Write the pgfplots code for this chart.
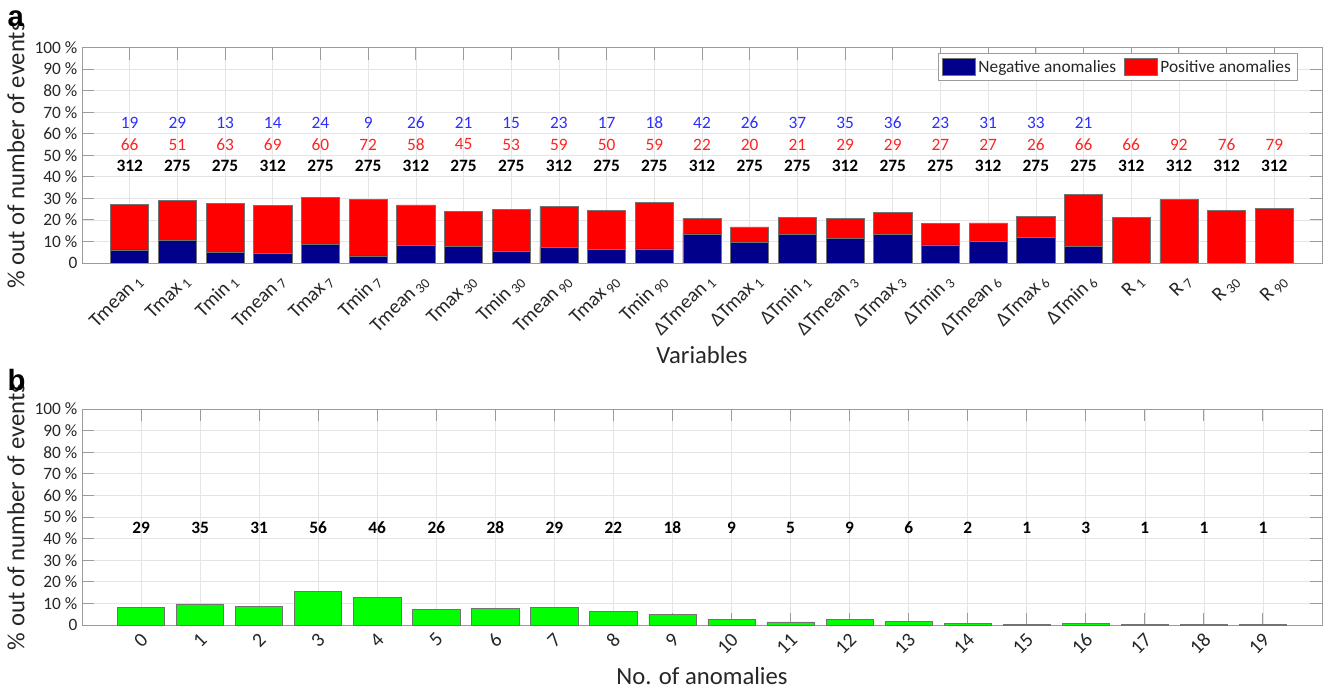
\documentclass[border=0pt]{standalone}
\usepackage{pgfplots}
\usepackage{pgfplotstable}
\pgfplotsset{compat=1.18}
\usepackage{fontspec}
\setmainfont{Carlito}
\newfontfamily\panelfont{Liberation Sans}
\definecolor{navybar}{RGB}{0,0,139}
\definecolor{redbar}{RGB}{255,0,0}
\definecolor{greenbar}{RGB}{0,255,0}
\definecolor{bluetxt}{RGB}{45,45,255}
\definecolor{redtxt}{RGB}{255,35,35}
\definecolor{axgray}{RGB}{155,155,155}
\definecolor{gridgray}{RGB}{228,228,228}
\definecolor{txtgray}{RGB}{38,38,38}
\definecolor{edgegray}{RGB}{115,115,115}

\pgfplotstableread[row sep=\\]{
x tot npos ntot\\
0 27.24 66 312\\
1 29.09 51 275\\
2 27.64 63 275\\
3 26.60 69 312\\
4 30.55 60 275\\
5 29.45 72 275\\
6 26.92 58 312\\
7 24.00 45 275\\
8 24.73 53 275\\
9 26.28 59 312\\
10 24.36 50 275\\
11 28.00 59 275\\
12 20.51 22 312\\
13 16.73 20 275\\
14 21.09 21 275\\
15 20.51 29 312\\
16 23.64 29 275\\
17 18.18 27 275\\
18 18.59 27 312\\
19 21.45 26 275\\
20 31.64 66 275\\
21 21.15 66 312\\
22 29.49 92 312\\
23 24.36 76 312\\
24 25.32 79 312\\
}\totA

\pgfplotstableread[row sep=\\]{
x neg nneg\\
0 6.09 19\\
1 10.55 29\\
2 4.73 13\\
3 4.49 14\\
4 8.73 24\\
5 3.27 9\\
6 8.33 26\\
7 7.64 21\\
8 5.45 15\\
9 7.37 23\\
10 6.18 17\\
11 6.55 18\\
12 13.46 42\\
13 9.45 26\\
14 13.45 37\\
15 11.22 35\\
16 13.09 36\\
17 8.36 23\\
18 9.94 31\\
19 12.00 33\\
20 7.64 21\\
}\negA

\pgfplotstableread[row sep=\\]{
x pct n\\
0 8.10 29\\
1 9.78 35\\
2 8.66 31\\
3 15.64 56\\
4 12.85 46\\
5 7.26 26\\
6 7.82 28\\
7 8.10 29\\
8 6.15 22\\
9 5.03 18\\
10 2.51 9\\
11 1.40 5\\
12 2.51 9\\
13 1.68 6\\
14 0.56 2\\
15 0.28 1\\
16 0.84 3\\
17 0.28 1\\
18 0.28 1\\
19 0.28 1\\
}\dataB

\pgfplotsset{
  common/.style={
    scale only axis, width=930pt,
    /pgf/number format/assume math mode=true,
    ymin=0, ymax=100, ytick={0,10,...,100},
    yticklabels={0,10 \%,20 \%,30 \%,40 \%,50 \%,60 \%,70 \%,80 \%,90 \%,100 \%},
    axis line style={axgray, line width=0.7pt},
    tick style={axgray, line width=0.7pt},
    major tick length=9pt,
    tick align=inside, tick pos=both,
    grid=major, major grid style={gridgray, line width=0.5pt},
    tick label style={font=\fontsize{13}{15}\selectfont, text=txtgray},
    label style={font=\fontsize{18.5}{21}\selectfont, text=txtgray},
    ylabel={\% out of number of events},
    ylabel style={at={(axis description cs:-0.0532,0.5)}, anchor=center},
  },
  barsty/.style={ybar, bar width=0.8, bar shift=0pt, draw=edgegray, line width=0.5pt},
  txtsty/.style={draw=none, mark=none, forget plot, nodes near coords, point meta=explicit symbolic,
    nodes near coords style={anchor=center, inner sep=0pt, font=\fontsize{13}{15}\selectfont, text=#1}},
}

\begin{document}
\begin{tikzpicture}
\useasboundingbox (0,0) rectangle (995.25pt,516.75pt);
\begin{axis}[common,
  at={(61.5pt,319.5pt)}, anchor=south west,
  height=161.6pt,
  xmin=-1, xmax=25,
  xtick={0,...,24},
  xticklabels={Tmean\,\textsubscript{1}, Tmax\,\textsubscript{1}, Tmin\,\textsubscript{1}, Tmean\,\textsubscript{7}, Tmax\,\textsubscript{7}, Tmin\,\textsubscript{7}, Tmean\,\textsubscript{30}, Tmax\,\textsubscript{30}, Tmin\,\textsubscript{30}, Tmean\,\textsubscript{90}, Tmax\,\textsubscript{90}, Tmin\,\textsubscript{90}, ΔTmean\,\textsubscript{1}, ΔTmax\,\textsubscript{1}, ΔTmin\,\textsubscript{1}, ΔTmean\,\textsubscript{3}, ΔTmax\,\textsubscript{3}, ΔTmin\,\textsubscript{3}, ΔTmean\,\textsubscript{6}, ΔTmax\,\textsubscript{6}, ΔTmin\,\textsubscript{6}, R\,\textsubscript{1}, R\,\textsubscript{7}, R\,\textsubscript{30}, R\,\textsubscript{90}},
  xticklabel style={font=\fontsize{15}{17}\selectfont, xshift=10pt, yshift=-9pt, rotate=45, anchor=east},
  xlabel={Variables},
  xlabel style={at={(axis description cs:0.5,-0.427)}, anchor=center},
  legend image code/.code={\draw[#1, line width=0.5pt] (0pt,-6.4pt) rectangle (24.75pt,6.4pt);},
  legend columns=2,
  legend style={at={(axis description cs:0.9806,0.975)}, anchor=north east,
    draw=axgray, fill=white, line width=0.6pt, inner xsep=3pt, inner ysep=3pt,
    font=\fontsize{13}{15}\selectfont, text=txtgray,
    /tikz/every even column/.append style={column sep=4pt}},
]
\addplot[barsty, fill=redbar, forget plot] table[x=x, y=tot] {\totA};
\addplot[barsty, fill=navybar, forget plot] table[x=x, y=neg] {\negA};
\addplot[txtsty=bluetxt] table[x=x, y expr=65, meta=nneg] {\negA};
\addplot[txtsty=redtxt] table[x=x, y expr=55, meta=npos] {\totA};
\addplot[txtsty=black, nodes near coords style={font=\fontsize{13}{15}\selectfont\bfseries}] table[x=x, y expr=45, meta=ntot] {\totA};
\addlegendimage{fill=navybar, draw=edgegray}
\addlegendentry{Negative anomalies}
\addlegendimage{fill=redbar, draw=edgegray}
\addlegendentry{Positive anomalies}
\end{axis}

\begin{axis}[common,
  at={(61.5pt,48pt)}, anchor=south west,
  height=162pt,
  xmin=-1, xmax=20,
  xtick={0,...,19},
  xticklabel style={font=\fontsize{15}{17}\selectfont, xshift=5pt, yshift=-6pt, rotate=45, anchor=east},
  xlabel={No. of anomalies},
  xlabel style={at={(axis description cs:0.5,-0.235)}, anchor=center},
]
\addplot[barsty, fill=greenbar] table[x=x, y=pct] {\dataB};
\addplot[txtsty=black, nodes near coords style={font=\fontsize{13}{15}\selectfont\bfseries}] table[x=x, y expr=45, meta=n] {\dataB};
\end{axis}

\node[anchor=base west, inner sep=0pt, font=\panelfont\fontsize{22}{24}\selectfont\bfseries] at (5.5pt,496.5pt) {a};
\node[anchor=base west, inner sep=0pt, font=\panelfont\fontsize{22}{24}\selectfont\bfseries] at (5.5pt,223.5pt) {b};
\end{tikzpicture}
\end{document}
